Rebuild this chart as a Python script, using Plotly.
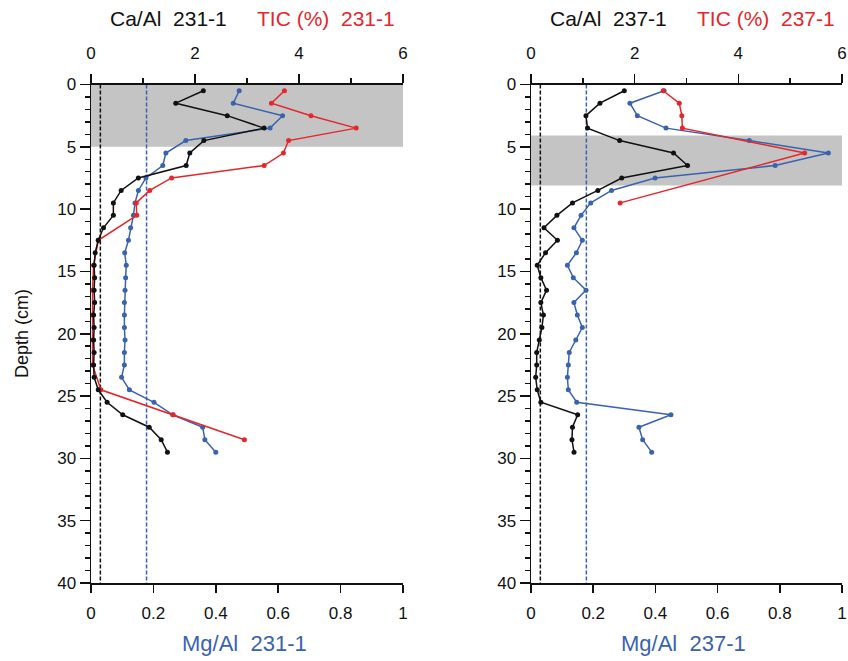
import plotly.graph_objects as go

# ---------------- data ----------------
depth_full = [0.5 + i for i in range(30)]

ca_231 = [2.16, 1.63, 2.62, 3.33, 2.17, 1.90, 1.83, 0.91, 0.58, 0.43,
          0.43, 0.24, 0.14, 0.08, 0.06, 0.07, 0.06, 0.07, 0.05, 0.06,
          0.05, 0.06, 0.05, 0.06, 0.14, 0.31, 0.61, 1.12, 1.35, 1.47]
mg_231 = [0.475, 0.456, 0.614, 0.574, 0.304, 0.240, 0.230, 0.176, 0.152, 0.141,
          0.136, 0.127, 0.120, 0.108, 0.113, 0.111, 0.109, 0.107, 0.107, 0.107,
          0.109, 0.107, 0.107, 0.098, 0.123, 0.202, 0.262, 0.358, 0.365, 0.400]
tic_231_depth = [0.5, 1.5, 2.5, 3.5, 4.5, 5.5, 6.5, 7.5, 8.5, 9.5, 10.5,
                 12.5, 14.5, 16.5, 18.5, 20.5, 22.5, 24.5, 26.5, 28.5]
tic_231 = [3.72, 3.47, 4.23, 5.10, 3.80, 3.70, 3.33, 1.55, 1.13, 0.87, 0.88,
           0.14, 0.05, 0.03, 0.03, 0.03, 0.03, 0.19, 1.58, 2.95]

ca_237 = [1.80, 1.33, 1.06, 1.09, 1.71, 2.75, 3.02, 1.75, 1.29, 0.80,
          0.50, 0.25, 0.51, 0.28, 0.12, 0.19, 0.30, 0.19, 0.24, 0.21,
          0.16, 0.11, 0.11, 0.09, 0.12, 0.19, 0.90, 0.80, 0.79, 0.83]
mg_237 = [0.428, 0.318, 0.342, 0.434, 0.702, 0.956, 0.785, 0.399, 0.259, 0.192,
          0.161, 0.138, 0.165, 0.146, 0.117, 0.136, 0.177, 0.138, 0.149, 0.165,
          0.144, 0.123, 0.120, 0.117, 0.120, 0.147, 0.450, 0.347, 0.359, 0.388]
tic_237_depth = [0.5, 1.5, 2.5, 3.5, 5.5, 9.5]
tic_237 = [2.55, 2.86, 2.91, 2.92, 5.28, 1.72]

band_231 = [0, 5]
band_237 = [4.1, 8.1]
mg_ref_black = 0.03
mg_ref_blue = 0.178

top_ticks = [0, 2, 4, 6]
bottom_ticks = [0, 0.2, 0.4, 0.6, 0.8, 1]
bottom_tick_text = ["0", "0.2", "0.4", "0.6", "0.8", "1"]
depth_ticks = [0, 5, 10, 15, 20, 25, 30, 35, 40]

BLACK = "#111111"
RED = "#E5262B"
BLUE = "#3A63AD"
FONT = "Liberation Sans, Arial, sans-serif"
NARROW = "Liberation Sans Narrow, Arial Narrow, Liberation Sans, sans-serif"

W, H = 848, 661
panels = [
    dict(x0=91, x1=403, xb="x", xt="x2", y="y",
         ca=ca_231, mg=mg_231, tic=tic_231, ticd=tic_231_depth, band=band_231, core="231-1"),
    dict(x0=531, x1=842, xb="x3", xt="x4", y="y2",
         ca=ca_237, mg=mg_237, tic=tic_237, ticd=tic_237_depth, band=band_237, core="237-1"),
]
ytop, ybot = 84.5, 583

fig = go.Figure()

def line_trace(xvals, yvals, color, xa, ya):
    return go.Scatter(x=xvals, y=yvals, mode="lines+markers", xaxis=xa, yaxis=ya,
                      line=dict(color=color, width=1.5), marker=dict(color=color, size=5),
                      showlegend=False, hoverinfo="skip", cliponaxis=False)

layout = dict(width=W, height=H, margin=dict(l=0, r=0, t=0, b=0, autoexpand=False),
              paper_bgcolor="white", plot_bgcolor="rgba(0,0,0,0)",
              showlegend=False, shapes=[], annotations=[])

for i, p in enumerate(panels):
    dom = [p["x0"] / W, p["x1"] / W]
    xb_name = "xaxis" if p["xb"] == "x" else "xaxis" + p["xb"][1:]
    xt_name = "xaxis" + p["xt"][1:]
    y_name = "yaxis" if p["y"] == "y" else "yaxis" + p["y"][1:]

    fig.add_trace(line_trace(p["mg"], depth_full, BLUE, p["xb"], p["y"]))
    fig.add_trace(line_trace(p["tic"], p["ticd"], RED, p["xt"], p["y"]))
    fig.add_trace(line_trace(p["ca"], depth_full, BLACK, p["xt"], p["y"]))

    layout[xb_name] = dict(domain=dom, range=[0, 1], anchor=p["y"], side="bottom",
                           automargin=False,
                           showline=True, linecolor=BLACK, linewidth=1.5,
                           ticks="outside", ticklen=8, tickwidth=1.5, tickcolor=BLACK,
                           tickvals=bottom_ticks, ticktext=bottom_tick_text,
                           tickfont=dict(family=NARROW, size=17, color=BLACK),
                           ticklabelstandoff=6,
                           showgrid=False, zeroline=False)
    layout[xt_name] = dict(domain=dom, range=[0, 6], anchor=p["y"], side="top",
                           overlaying=p["xb"], automargin=False,
                           showline=True, linecolor=BLACK, linewidth=1.5,
                           ticks="outside", ticklen=9, tickwidth=1.5, tickcolor=BLACK,
                           tickvals=top_ticks,
                           minor=dict(dtick=1, ticks="outside", ticklen=5, tickwidth=1.5, tickcolor=BLACK),
                           tickfont=dict(family=FONT, size=17, color=BLACK),
                           ticklabelstandoff=8,
                           showgrid=False, zeroline=False)
    layout[y_name] = dict(domain=[1 - ybot / H, 1 - ytop / H], range=[40, 0],
                          anchor=p["xb"], automargin=False,
                          showline=True, linecolor=BLACK, linewidth=1.5,
                          ticks="outside", ticklen=10, tickwidth=1.5, tickcolor=BLACK,
                          tickvals=depth_ticks,
                          minor=dict(dtick=1, ticks="outside", ticklen=5, tickwidth=1.5, tickcolor=BLACK),
                          tickfont=dict(family=NARROW, size=17, color=BLACK),
                          showgrid=False, zeroline=False)

    # grey band
    layout["shapes"].append(dict(type="rect", xref=p["xb"] + " domain", yref=p["y"],
                                 x0=0, x1=1, y0=p["band"][0], y1=p["band"][1],
                                 fillcolor="#C4C4C4", line=dict(width=0), layer="below"))
    # reference dashed lines
    for xv, col in [(mg_ref_black, BLACK), (mg_ref_blue, BLUE)]:
        layout["shapes"].append(dict(type="line", xref=p["xb"], yref=p["y"],
                                     x0=xv, x1=xv, y0=0, y1=40,
                                     line=dict(color=col, width=1.5, dash="4px,2px"), layer="below"))

    cx = (p["x0"] + p["x1"]) / 2
    layout["annotations"] += [
        dict(text="Ca/Al  " + p["core"], x=(p["x0"] + 77) / W, y=1 - 19 / H,
             xref="paper", yref="paper", showarrow=False, xanchor="center", yanchor="middle",
             font=dict(family=FONT, size=21, color=BLACK)),
        dict(text="TIC (%)  " + p["core"], x=(p["x0"] + 235) / W, y=1 - 19 / H,
             xref="paper", yref="paper", showarrow=False, xanchor="center", yanchor="middle",
             font=dict(family=FONT, size=21, color=RED)),
        dict(text="Mg/Al  " + p["core"], x=(cx - 3) / W, y=1 - 643 / H,
             xref="paper", yref="paper", showarrow=False, xanchor="center", yanchor="middle",
             font=dict(family=NARROW, size=22, color=BLUE)),
    ]

layout["annotations"].append(
    dict(text="Depth (cm)", x=22 / W, y=1 - 334 / H, xref="paper", yref="paper",
         showarrow=False, textangle=-90, xanchor="center", yanchor="middle",
         font=dict(family=FONT, size=18, color=BLACK)))

fig.update_layout(**layout)
fig.write_html("out.html", config={"displayModeBar": False, "staticPlot": True},
               post_script="document.body.style.margin='0px';document.body.style.padding='0px';document.body.style.overflow='hidden';")
